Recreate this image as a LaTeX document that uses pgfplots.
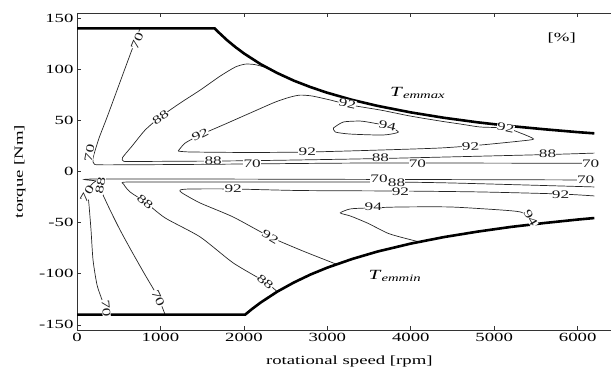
\documentclass[border=0pt]{standalone}
\usepackage{fontspec}
\setmainfont{Liberation Serif}[FakeStretch=1.5]
\usepackage{pgfplots}
\pgfplotsset{compat=1.18}
\begin{document}
\begin{tikzpicture}[font=\fontsize{12.5}{14}\selectfont,
  cl/.style={black!85, line width=0.7pt, smooth, tension=0.4},
  bd/.style={black, line width=2.6pt},
  lab/.style={fill=white, inner sep=0.2pt, font=\fontsize{11.5}{12}\selectfont, text=black!90}]
\begin{axis}[name=ax,
  scale only axis, width=534pt, height=317pt,
  xmin=0, xmax=6400, ymin=-155, ymax=155,
  axis x line*=box, axis y line*=left,
  axis line style={black!80, line width=0.8pt},
  xtick={0,1000,2000,3000,4000,5000,6000},
  xticklabels={0,1000,2000,3000,4000,5000,6000},
  ytick={-150,-100,-50,0,50,100,150},
  yticklabels={-150,-100,-50,0,50,100,150},
  tick align=inside, major tick length=4pt,
  tick style={black!80, line width=0.6pt},
  tick label style={font=\fontsize{12.5}{14}\selectfont},
  xlabel={rotational speed [rpm]},
  ylabel={torque [Nm]},
  x label style={at={(axis description cs:0.51,0)}, anchor=base, yshift=-34pt},
  y label style={at={(axis description cs:-0.107,0.5)}, anchor=center},
  clip=true,
]
% upper 70
\addplot[cl] coordinates {(756,140) (640,115) (500,84) (360,53) (270,34) (215,20) (190,12) (205,7.5) (320,6.5) (1500,7) (3500,8.3) (6200,8)};
% upper 88
\addplot[cl] coordinates {(2280,101.3) (2136,104.5) (2016,105) (1896,102.1) (1716,93.3) (1476,79.6) (1236,66.9) (996,53.2) (816,40.5) (660,24.9) (545,13.5) (560,10) (700,9.8) (2000,10.5) (3636,12.7) (5640,16.6) (6200,18)};
% upper 92
\addplot[cl] coordinates {(1212,20) (1296,27.8) (1476,35.7) (1776,46.4) (2076,57.2) (2376,67.9) (2556,72.8) (2676,74.7) (2820,73.8) (3036,69.9) (3276,65) (3636,60.1) (3996,54.2) (4356,49.3) (4596,46.4) (4836,43.5) (5136,42.5) (5316,37.6) (5472,31.8) (5316,29.8) (4836,25.9) (4356,23) (3636,21) (2796,19.1) (2076,18.6) (1356,19.1) (1212,20)};
% upper 94
\addplot[cl] coordinates {(3072,42.5) (3192,48.4) (3396,49.3) (3552,47.4) (3720,44.5) (3852,38.6) (3672,35.7) (3276,36.6) (3096,38.6) (3072,42.5)};
% lower 70 (curve 1)
\addplot[cl] coordinates {(6200,-8.3) (3876,-7.8) (276,-7.3) (228,-9.3) (168,-13.2) (132,-21) (144,-32.7) (168,-57.2) (192,-86.5) (240,-110.9) (300,-125.5) (336,-133.3) (360,-140)};
% lower 70 (curve 2)
\addplot[cl] coordinates {(240,-11) (312,-23) (396,-37.6) (516,-57.2) (660,-78.7) (816,-101.1) (936,-117.7) (996,-127.5) (1056,-140)};
% lower 88
\addplot[cl] coordinates {(6200,-15.1) (4476,-11.2) (3636,-10.3) (1476,-10.3) (600,-10.3) (560,-12.5) (636,-20) (816,-29.8) (1056,-45.4) (1476,-64) (1872,-89.4) (2256,-108) (2400,-117.5)};
% lower 92
\addplot[cl] coordinates {(6200,-23.9) (5796,-22) (4836,-20) (3876,-19.1) (2676,-18.6) (1872,-17.1) (1356,-17.1) (1236,-18.1) (1260,-21) (1476,-30.8) (1872,-44.5) (2316,-64) (2676,-76.7) (2916,-84.5) (3110,-90.7)};
% lower 94
\addplot[cl] coordinates {(4100,-68.8) (3876,-64.1) (3720,-60.2) (3480,-50.4) (3276,-43.5) (3156,-40.5) (3276,-36.6) (3480,-35.7) (3876,-34.7) (4476,-34.7) (5076,-37.6) (5316,-39.6) (5436,-44.5) (5480,-51.5)};
% Temmax
\addplot[bd] coordinates {(0,140) (1650,140) (1700,135.9) (1800,128.3) (1900,121.6) (2000,115.5) (2200,105) (2400,96.3) (2600,88.8) (2800,82.5) (3000,77) (3300,70) (3600,64.2) (4000,57.8) (4400,52.5) (4800,48.1) (5200,44.4) (5600,41.3) (6000,38.5) (6200,37.3)};
% Temmin
\addplot[bd] coordinates {(0,-140) (2015,-140) (2100,-134.3) (2200,-128.2) (2400,-117.5) (2600,-108.5) (2800,-100.7) (3000,-94) (3300,-85.5) (3600,-78.3) (4000,-70.5) (4400,-64.1) (4800,-58.8) (5200,-54.2) (5600,-50.4) (6000,-47) (6200,-45.5)};
% contour labels, upper half
\node[lab, rotate=68] at (axis cs:720,128) {70};
\node[lab, rotate=80] at (axis cs:150,18) {70};
\node[lab, rotate=35] at (axis cs:1000,53) {88};
\node[lab, rotate=27] at (axis cs:1476,36) {92};
\node[lab] at (axis cs:1632,11) {88};
\node[lab] at (axis cs:2100,7.5) {70};
\node[lab] at (axis cs:2760,19) {92};
\node[lab] at (axis cs:3636,13) {88};
\node[lab] at (axis cs:4080,8) {70};
\node[lab, rotate=-12] at (axis cs:3240,66.5) {92};
\node[lab, rotate=-12] at (axis cs:3720,44.5) {94};
\node[lab, rotate=-12] at (axis cs:5136,42.5) {92};
\node[lab, rotate=4] at (axis cs:4716,24.5) {92};
\node[lab] at (axis cs:5640,17) {88};
\node[lab] at (axis cs:6156,8) {70};
% contour labels, lower half
\node[lab] at (axis cs:3620,-7.5) {70};
\node[lab] at (axis cs:3830,-10.5) {88};
\node[lab] at (axis cs:6096,-8.3) {70};
\node[lab] at (axis cs:3876,-19.5) {92};
\node[lab] at (axis cs:5796,-22.5) {92};
\node[lab] at (axis cs:1872,-16.5) {92};
\node[lab, rotate=-40] at (axis cs:816,-29.8) {88};
\node[lab, rotate=-30] at (axis cs:2316,-64) {92};
\node[lab, rotate=-40] at (axis cs:2256,-108) {88};
\node[lab, rotate=-65] at (axis cs:972,-124) {70};
\node[lab, rotate=-85] at (axis cs:348,-134) {70};
\node[lab] at (axis cs:3552,-34.7) {94};
\node[lab, rotate=-60] at (axis cs:5436,-45.5) {94};
\node[lab, rotate=60] at (axis cs:120,-22) {70};
\node[lab, rotate=80] at (axis cs:280,-14) {88};
% annotations
\node at (axis cs:4083,77) {\fontsize{14}{16}\selectfont\textit{T}\textsubscript{\textit{emmax}}};
\node at (axis cs:3810,-102) {\fontsize{14}{16}\selectfont\textit{T}\textsubscript{\textit{emmin}}};
\node at (axis cs:5810,131) {[\%]};
\end{axis}
\pgfresetboundingbox
\path[use as bounding box] ([shift={(-77pt,-42pt)}]ax.south west) rectangle ([shift={(0pt,13pt)}]ax.north east);
\end{tikzpicture}
\end{document}
